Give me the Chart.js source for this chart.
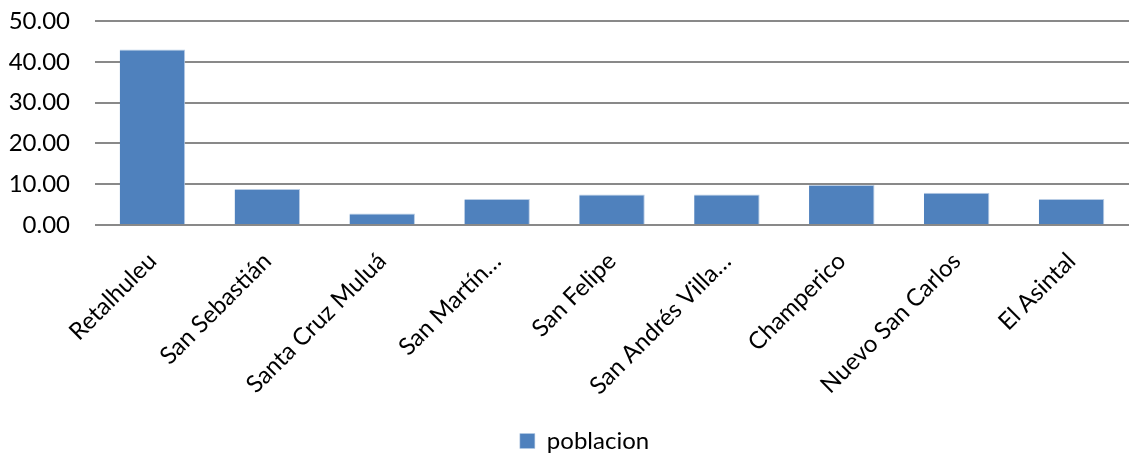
<!DOCTYPE html>
<html>
<head>
<meta charset="utf-8">
<script src="https://cdn.jsdelivr.net/npm/chart.js@4/dist/chart.umd.min.js"></script>
<style>
  html, body { margin: 0; padding: 0; background: #fff; }
  #wrap { width: 1129px; height: 454px; }
</style>
</head>
<body>
<div id="wrap"><canvas id="chart"></canvas></div>
<script>
const categories = ['Retalhuleu', 'San Sebastián', 'Santa Cruz Muluá', 'San Martín…', 'San Felipe', 'San Andrés Villa…', 'Champerico', 'Nuevo San Carlos', 'El Asintal'];
const poblacion = [43.0, 8.8, 2.8, 6.4, 7.5, 7.5, 9.8, 7.9, 6.4];
const seriesName = 'poblacion';

const family = 'Lato, "Open Sans", sans-serif';

// nudge the legend a little to the right, like the original sits under the plot
const legendShift = {
  id: 'legendShift',
  afterLayout(chart) {
    chart.legend.left += 16;
    chart.legend.right += 16;
  }
};

new Chart(document.getElementById('chart'), {
  type: 'bar',
  data: {
    labels: categories,
    datasets: [{
      label: seriesName,
      data: poblacion,
      backgroundColor: '#4F81BD',
      borderColor: '#B9CDE5',
      borderWidth: { top: 1, right: 1, left: 0, bottom: 0 },
      categoryPercentage: 1,
      barPercentage: 0.57
    }]
  },
  options: {
    responsive: true,
    maintainAspectRatio: false,
    animation: false,
    layout: { padding: { left: 0, right: -8, top: 21, bottom: -9 } },
    plugins: {
      legend: {
        position: 'bottom',
        labels: { color: '#000', font: { family, size: 24 }, boxWidth: 15, boxHeight: 15, padding: 4 }
      },
      tooltip: { enabled: false }
    },
    scales: {
      x: {
        grid: { display: false, drawTicks: false },
        border: { display: false },
        ticks: { color: '#000', font: { family, size: 24 }, minRotation: 45, maxRotation: 45, padding: 22, autoSkip: false },
        afterFit(s) {
          s.height = 200;
          s.paddingLeft = 0;
          s.paddingRight = 0;
        }
      },
      y: {
        min: 0,
        max: 50,
        grid: { color: '#898989', lineWidth: 2, drawTicks: false },
        border: { display: false },
        ticks: { stepSize: 10, color: '#000', font: { family, size: 24 }, padding: 25, callback: v => v.toFixed(2) },
        afterFit(s) {
          s.width = 95;
          s.paddingTop = 0;
          s.paddingBottom = 0;
        }
      }
    }
  },
  plugins: [legendShift]
});
</script>
</body>
</html>
